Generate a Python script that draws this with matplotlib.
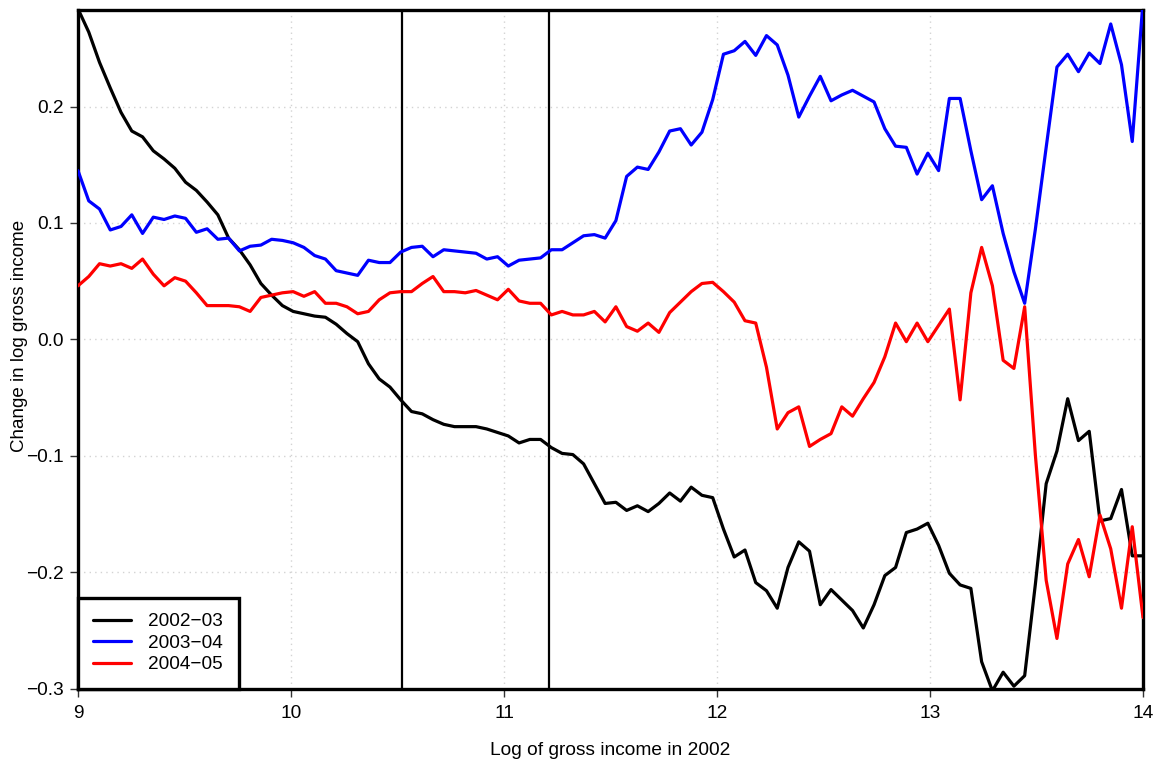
import numpy as np
import matplotlib
matplotlib.use("Agg")
import matplotlib.pyplot as plt

plt.rcParams['font.family'] = ['Liberation Sans', 'DejaVu Sans']

# Income grid (log of gross income in 2002)
log_income = np.linspace(9, 14, 100)

# Change in log gross income by year pair
chg_2002_03 = [
    0.284, 0.264, 0.238, 0.216, 0.195, 0.179, 0.174, 0.162, 0.155, 0.147,
    0.135, 0.128, 0.118, 0.107, 0.087, 0.077, 0.064, 0.048, 0.038, 0.029,
    0.024, 0.022, 0.020, 0.019, 0.013, 0.005, -0.002, -0.021, -0.034, -0.041,
    -0.052, -0.062, -0.064, -0.069, -0.073, -0.075, -0.075, -0.075, -0.077, -0.080,
    -0.083, -0.089, -0.086, -0.086, -0.093, -0.098, -0.099, -0.107, -0.124, -0.141,
    -0.140, -0.147, -0.143, -0.148, -0.141, -0.132, -0.139, -0.127, -0.134, -0.136,
    -0.163, -0.187, -0.181, -0.209, -0.216, -0.231, -0.196, -0.174, -0.182, -0.228,
    -0.215, -0.224, -0.233, -0.248, -0.228, -0.203, -0.196, -0.166, -0.163, -0.158,
    -0.177, -0.201, -0.211, -0.214, -0.277, -0.302, -0.286, -0.298, -0.289, -0.210,
    -0.124, -0.096, -0.051, -0.087, -0.079, -0.156, -0.154, -0.129, -0.186, -0.186,
]
chg_2003_04 = [
    0.145, 0.119, 0.112, 0.094, 0.097, 0.107, 0.091, 0.105, 0.103, 0.106,
    0.104, 0.092, 0.095, 0.086, 0.087, 0.076, 0.080, 0.081, 0.086, 0.085,
    0.083, 0.079, 0.072, 0.069, 0.059, 0.057, 0.055, 0.068, 0.066, 0.066,
    0.075, 0.079, 0.080, 0.071, 0.077, 0.076, 0.075, 0.074, 0.069, 0.071,
    0.063, 0.068, 0.069, 0.070, 0.077, 0.077, 0.083, 0.089, 0.090, 0.087,
    0.102, 0.140, 0.148, 0.146, 0.161, 0.179, 0.181, 0.167, 0.178, 0.206,
    0.245, 0.248, 0.256, 0.244, 0.261, 0.253, 0.227, 0.191, 0.209, 0.226,
    0.205, 0.210, 0.214, 0.209, 0.204, 0.181, 0.166, 0.165, 0.142, 0.160,
    0.145, 0.207, 0.207, 0.162, 0.120, 0.132, 0.091, 0.058, 0.031, 0.095,
    0.165, 0.234, 0.245, 0.230, 0.246, 0.237, 0.271, 0.236, 0.170, 0.290,
]
chg_2004_05 = [
    0.046, 0.054, 0.065, 0.063, 0.065, 0.061, 0.069, 0.056, 0.046, 0.053,
    0.050, 0.040, 0.029, 0.029, 0.029, 0.028, 0.024, 0.036, 0.038, 0.040,
    0.041, 0.037, 0.041, 0.031, 0.031, 0.028, 0.022, 0.024, 0.034, 0.040,
    0.041, 0.041, 0.048, 0.054, 0.041, 0.041, 0.040, 0.042, 0.038, 0.034,
    0.043, 0.033, 0.031, 0.031, 0.021, 0.024, 0.021, 0.021, 0.024, 0.015,
    0.028, 0.011, 0.007, 0.014, 0.006, 0.023, 0.032, 0.041, 0.048, 0.049,
    0.041, 0.032, 0.016, 0.014, -0.024, -0.077, -0.063, -0.058, -0.092, -0.086,
    -0.081, -0.058, -0.066, -0.051, -0.037, -0.015, 0.014, -0.002, 0.014, -0.002,
    0.012, 0.026, -0.052, 0.040, 0.079, 0.046, -0.018, -0.025, 0.028, -0.100,
    -0.207, -0.257, -0.193, -0.172, -0.204, -0.151, -0.180, -0.231, -0.161, -0.239,
]

series_labels = ["2002\u221203", "2003\u221204", "2004\u221205"]
series_colors = ["black", "blue", "red"]

# Income thresholds marked on the chart
thresholds = [10.52, 11.21]

x_ticks = [9, 10, 11, 12, 13, 14]
y_ticks = [-0.3, -0.2, -0.1, 0.0, 0.1, 0.2]
y_tick_labels = ["\u22120.3", "\u22120.2", "\u22120.1", "0.0", "0.1", "0.2"]

fig = plt.figure(figsize=(11.6, 7.65), dpi=100)
ax = fig.add_axes([78 / 1160, 1 - 688.5 / 765, (1143 - 78) / 1160, (688.5 - 10) / 765])

for xv in x_ticks[1:-1]:
    ax.axvline(xv, color="#d3d3d3", lw=1.0, ls=(0, (1, 3)), zorder=1)
for yv in y_ticks[1:]:
    ax.axhline(yv, color="#d3d3d3", lw=1.0, ls=(0, (1, 3)), zorder=1)

for xv in thresholds:
    ax.axvline(xv, color="black", lw=1.6, zorder=2)

for vals, lab, col in zip([chg_2002_03, chg_2003_04, chg_2004_05], series_labels, series_colors):
    ax.plot(log_income, vals, color=col, lw=2.3, label=lab, zorder=3,
            solid_joinstyle="round", solid_capstyle="round")

ax.set_xlim(9, 14)
ax.set_ylim(-0.3, 0.283)
ax.set_xticks(x_ticks)
ax.set_xticklabels([str(t) for t in x_ticks])
ax.set_yticks(y_ticks)
ax.set_yticklabels(y_tick_labels)
ax.tick_params(direction="out", length=6, width=1.0, labelsize=13.8, color="#333333")
ax.tick_params(axis="x", pad=6)
ax.tick_params(axis="y", pad=4)

for sp in ax.spines.values():
    sp.set_linewidth(2.4)
    sp.set_color("black")

ax.set_xlabel("Log of gross income in 2002", fontsize=13.8, labelpad=14)
fig.text(20 / 1160, 1 - 336 / 765, "Change in log gross income", fontsize=13.5,
         rotation=90, ha="center", va="center")

leg = ax.legend(loc="lower left", borderaxespad=0, fancybox=False, framealpha=1,
                edgecolor="black", fontsize=13.7, handlelength=2.0, handletextpad=0.9,
                borderpad=0.8, labelspacing=0.22)
leg.get_frame().set_linewidth(2.4)
leg.set_zorder(5)

fig.savefig("out.png", dpi=100)
